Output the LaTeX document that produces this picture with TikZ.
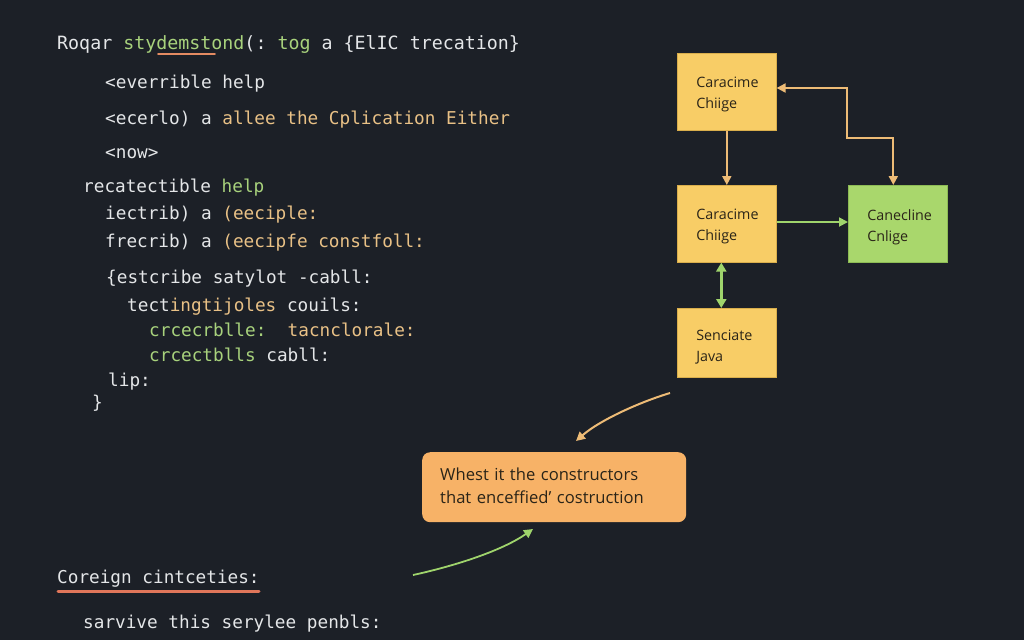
\documentclass[tikz,border=0pt]{standalone}
\usepackage{fontspec}
\setmonofont{DejaVu Sans Mono}
\newfontfamily\boxfont{Open Sans}
\usetikzlibrary{arrows.meta}
\definecolor{bg}{HTML}{1C2027}
\definecolor{tw}{HTML}{E4E6E8}
\definecolor{tg}{HTML}{A8D27C}
\definecolor{to}{HTML}{E9C186}
\definecolor{byel}{HTML}{F8CD66}
\definecolor{byeledge}{HTML}{D9AE4C}
\definecolor{bgrn}{HTML}{A9D76C}
\definecolor{bgrnedge}{HTML}{8DBB55}
\definecolor{callc}{HTML}{F7B267}
\definecolor{ao}{HTML}{EDBB76}
\definecolor{ag}{HTML}{9FD46C}
\definecolor{ul}{HTML}{E0765A}
\definecolor{ink}{HTML}{2A2418}
\newcommand{\G}[1]{\textcolor{tg}{#1}}
\newcommand{\Or}[1]{\textcolor{to}{#1}}
\tikzset{
  code/.style={anchor=base west, inner sep=0pt, text=tw, font=\ttfamily\fontsize{17.7}{20}\selectfont},
  boxtxt/.style={inner sep=0pt, text width=61pt, align=left, text=ink,
     font=\boxfont\fontsize{14.3}{21}\selectfont, yshift=-3pt},
  fbox/.style={anchor=north west, rectangle, minimum width=99pt, minimum height=#1, line width=0.6pt},
  ybox/.style={fbox=#1, fill=byel, draw=byeledge},
  gbox/.style={fbox=#1, fill=bgrn, draw=bgrnedge},
  oarrow/.style={draw=ao, line width=2pt, -{Triangle[length=9pt,width=9pt]}},
  garrow/.style={draw=ag, line width=2pt, -{Triangle[length=9pt,width=9pt]}},
  gdarrow/.style={draw=ag, line width=2.5pt, {Triangle[length=9pt,width=10pt]}-{Triangle[length=9pt,width=10pt]}},
  odarrow/.style={draw=ao, line width=2pt, {Triangle[length=9pt,width=9pt]}-{Triangle[length=9pt,width=9pt]}},
}
\begin{document}
\begin{tikzpicture}[x=1pt,y=-1pt]
\fill[bg] (0,0) rectangle (1024,640);
\useasboundingbox (0,0) rectangle (1024,640);

% code lines
\node[code, font=\ttfamily\fontsize{18.3}{20}\selectfont] (l1) at (57,49) {Roqar \G{stydemstond}(: \G{tog} a \{ElIC trecation\}};
\draw[ul!70!ao, line width=1.6pt, line cap=round] (158,54) -- (215,54);
\node[code] (l2) at (105,88) {<everrible help};
\node[code] (l3) at (105,124) {<ecerlo) a \Or{allee the Cplication Either}};
\node[code] (l4) at (105,158) {<now>};
\node[code] (l5) at (83,192) {recatectible \G{help}};
\node[code] (l6) at (105,219) {iectrib) a \Or{(eeciple:}};
\node[code] (l7) at (105,247) {frecrib) a \Or{(eecipfe constfoll:}};
\node[code] (l8) at (106,283) {\{estcribe satylot -cabll:};
\node[code] (l9) at (127,311) {tect\Or{ingtijoles} couils:};
\node[code] (l10) at (149,336) {\G{crcecrblle:}\ \ \Or{tacnclorale:}};
\node[code] (l11) at (149,361) {\G{crcectblls} cabll:};
\node[code] (l12) at (108,386) {lip:};
\node[code] (l13) at (92,408) {\}};
\node[code] (l14) at (57,583) {Coreign cintceties:};
\draw[ul, line width=3pt, line cap=round] (58,591) -- (259,591);
\node[code] (l15) at (83,628) {sarvive this serylee penbls:};

% boxes
\node[ybox=77pt] (A) at (677,53) {};
\node[boxtxt] (At) at (A.center) {Caracime\\Chiige};
\node[ybox=77pt] (B) at (677,185) {};
\node[boxtxt] (Bt) at (B.center) {Caracime\\Chiige};
\node[gbox=77pt] (C) at (848,185) {};
\node[boxtxt] (Ct) at (C.center) {Canecline\\Cnlige};
\node[ybox=69pt] (D) at (677,308) {};
\node[boxtxt, yshift=-1pt] (Dt) at (D.center) {Senciate\\Java};

% callout
\node[anchor=north west, rectangle, rounded corners=8pt, fill=callc, minimum width=264pt, minimum height=70pt] (call) at (422,452) {};
\node[inner sep=0pt, text width=228pt, align=left, text=ink, yshift=1pt,
      font=\boxfont\fontsize{16.6}{23}\selectfont] (callt) at (call.center)
  {Whest it the constructors\\that enceffied’ costruction};

% connectors
\draw[oarrow] (A.south) -- (B.north);
\coordinate (k1) at (847,138);
\coordinate (k2) at (847,88);
\coordinate (cn) at ([xshift=-4.5pt]C.north);
\draw[odarrow] (cn) -- (cn |- k1) -- (k1) -- (k2) -- (A.east |- k2);
\draw[garrow, line width=1.8pt] (B.east |- 0,222) -- (C.west |- 0,222);
\draw[gdarrow] ([xshift=-5.5pt]B.south) -- ([xshift=-5.5pt]D.north);

\coordinate (o1) at (670,393);
\coordinate (o2) at (576,441);
\draw[oarrow] (o1) .. controls (640,402) and (600,420) .. (o2);
\coordinate (g1) at (413,575);
\coordinate (g2) at (533,529);
\draw[garrow, line width=1.8pt] (g1) .. controls (450,567) and (500,552) .. (g2);
\end{tikzpicture}
\end{document}
